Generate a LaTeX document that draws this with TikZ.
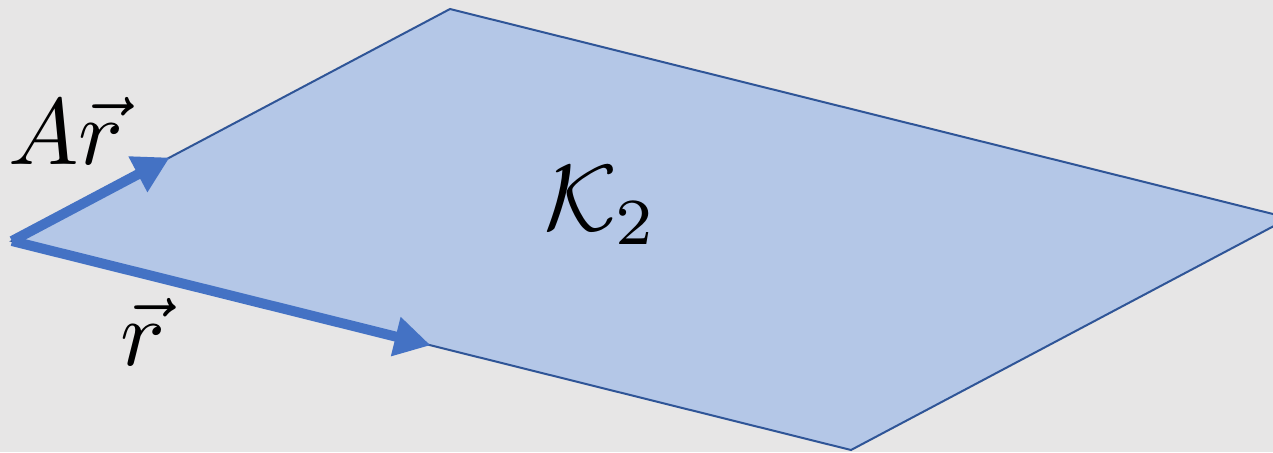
\documentclass[tikz,border=0pt]{standalone}
\usepackage{amsmath,amssymb}
\usepackage{tikz}
\usetikzlibrary{arrows.meta,calc}
\definecolor{bggray}{RGB}{231,230,230}
\definecolor{planefill}{RGB}{180,199,231}
\definecolor{planeedge}{RGB}{47,85,151}
\definecolor{vecblue}{RGB}{68,114,196}

\begin{document}
\begin{tikzpicture}[x=0.5pt,y=-0.5pt,
    plane/.style={fill=planefill,draw=planeedge,line width=1pt,line join=miter},
    vecarrow/.style={draw=vecblue,line width=5pt,-{Triangle[length=18pt,width=19pt]}},
    lbl/.style={inner sep=0pt,scale=4.7}]
        \fill[bggray] (0,0) rectangle (1273,452);
        \useasboundingbox (0,0) rectangle (1273,452);
        \clip (0,0) rectangle (1273,452);
        \coordinate (o) at (12,241);
        \coordinate (top) at (450,9);
        \coordinate (bot) at (851,450);
        \coordinate (rgt) at ($(top)+(bot)-(o)$);
        \draw[plane] (o)--(top)--(rgt)--(bot)--cycle;
        \coordinate (arEnd) at ($(o)!0.36!(top)$);
        \coordinate (rEnd) at ($(o)!0.499!(bot)$);
        \draw[vecarrow] (o)--(arEnd);
        \draw[vecarrow] (o)--(rEnd);
        \node[lbl] (arLabel) at (66,131) {$A\vec{r}$};
        \node[lbl] (rLabel) at (143,332) {$\vec{r}$};
        \node[lbl] (kLabel) at (601,205) {$\mathcal{K}_2$};
      \end{tikzpicture}
\end{document}
